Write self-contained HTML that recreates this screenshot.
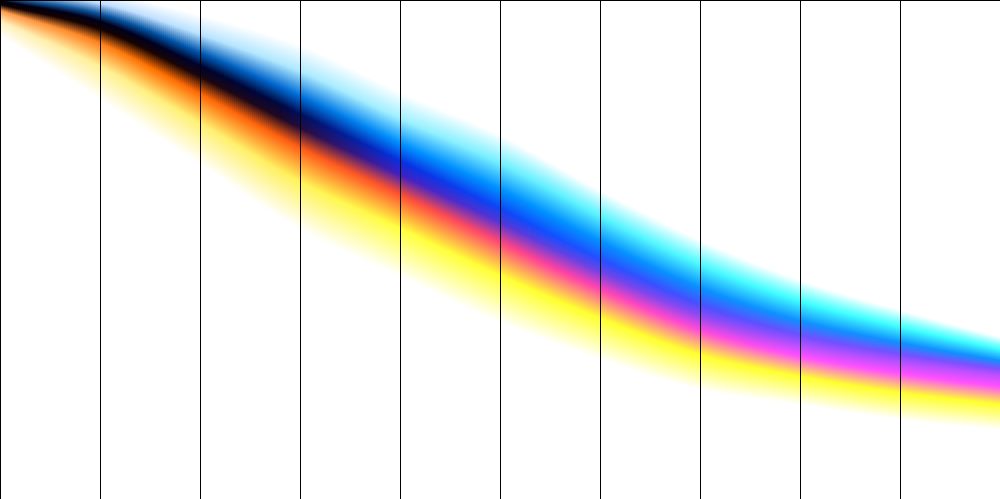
<!DOCTYPE html>
<html><head><meta charset="utf-8"><style>html,body{margin:0;padding:0;background:#fff;}svg{display:block;}</style></head>
<body>
<svg id="chart" width="1000" height="499" viewBox="0 0 1000 499" xmlns="http://www.w3.org/2000/svg">
<defs id="defs"></defs>
<g id="band"></g>
<g id="grid"></g>
</svg>
<script>
const xs = [0,100,200,300,400,500,600,700,800,900,1000];
const topEdge = [-14,-8,15,45,92,135,190,240,280,310,337];
const centerLine = [2,24,70,120,167,215,265,310,340,358,372];
const bottomEdge = [36,100,165,230,277,323,360,390,405,420,430];
const gridXs = [0,100,200,300,400,500,600,700,800,900];

const NS = 'http://www.w3.org/2000/svg';
function interp(arr, x){
  let i=Math.min(xs.length-2,Math.max(0,Math.floor(x/100)));
  const t=(x-xs[i])/(xs[i+1]-xs[i]);
  const p1=arr[i],p2=arr[i+1];
  const p0=i>0?arr[i-1]:2*p1-p2, p3=i+2<arr.length?arr[i+2]:2*p2-p1;
  const t2=t*t,t3=t2*t;
  return 0.5*((2*p1)+(-p0+p2)*t+(2*p0-5*p1+4*p2-p3)*t2+(-p0+3*p1-3*p2+p3)*t3);
}
function hex(c){return [parseInt(c.slice(1,3),16),parseInt(c.slice(3,5),16),parseInt(c.slice(5,7),16)];}
const keyX=[0,150,280,400,550,800,1000];
const pal = {
  cyan:['#c8e0ff','#c0e0ff','#b0e8ff','#a0f0ff','#60f0ff','#40ffff','#40ffff'],
  blue:['#2060a0','#0050a0','#0068d0','#0090ff','#0090ff','#1090ff','#1090ff'],
  dark:['#000010','#000020','#000840','#0830e0','#1050ff','#7050ff','#8050ff'],
  dark2:['#100000','#180400','#200820','#4020c0','#6040e0','#b050ff','#c050ff'],
  warm:['#ffa050','#ff7000','#ff6010','#ff5030','#ff40a0','#ff50ff','#ff50ff'],
  yel:['#fff0c0','#fff080','#fff060','#ffff40','#ffff30','#ffff30','#ffff30']
};
function colAt(arr,x){
  let i=0;while(i<keyX.length-2&&x>keyX[i+1])i++;
  const t=Math.min(1,Math.max(0,(x-keyX[i])/(keyX[i+1]-keyX[i])));
  const A=hex(arr[i]),B=hex(arr[i+1]);
  return 'rgb('+A.map((v,k)=>Math.round(v+(B[k]-v)*t)).join(',')+')';
}
const defs=document.getElementById('defs');
const band=document.getElementById('band');
const W=2;
for(let x=0;x<1000;x+=W){
  const cx=x+W/2;
  const te=interp(topEdge,cx), c=interp(centerLine,cx), b=interp(bottomEdge,cx);
  const f=(c-te)/(b-te);
  const g=document.createElementNS(NS,'linearGradient');
  g.setAttribute('id','g'+x);
  g.setAttribute('gradientUnits','userSpaceOnUse');
  g.setAttribute('x1',0);g.setAttribute('x2',0);g.setAttribute('y1',te);g.setAttribute('y2',b);
  const stops=[[0,'#ffffff'],[0.35*f,colAt(pal.cyan,cx)],[0.68*f,colAt(pal.blue,cx)],[0.92*f,colAt(pal.dark,cx)],
    [f+0.07*(1-f),colAt(pal.dark2,cx)],
    [f+0.25*(1-f),colAt(pal.warm,cx)],[f+0.56*(1-f),colAt(pal.yel,cx)],[1,'#ffffff']];
  stops.forEach(s=>{const st=document.createElementNS(NS,'stop');st.setAttribute('offset',s[0]);st.setAttribute('stop-color',s[1]);g.appendChild(st);});
  defs.appendChild(g);
  const r=document.createElementNS(NS,'rect');
  
  
  r.setAttribute('x',x);r.setAttribute('width',W+0.5);
  r.setAttribute('y',te);r.setAttribute('height',b-te);
  r.setAttribute('fill','url(#g'+x+')');
  band.appendChild(r);
}
const grid=document.getElementById('grid');
gridXs.forEach(gx=>{
  const l=document.createElementNS(NS,'line');
  
  
  l.setAttribute('x1',gx+0.5);l.setAttribute('x2',gx+0.5);l.setAttribute('y1',0);l.setAttribute('y2',499);
  l.setAttribute('stroke','#000');l.setAttribute('stroke-width',1);
  grid.appendChild(l);
});
const tl=document.createElementNS(NS,'line');


tl.setAttribute('x1',0);tl.setAttribute('x2',1000);tl.setAttribute('y1',0.5);tl.setAttribute('y2',0.5);
tl.setAttribute('stroke','#000');
grid.appendChild(tl);
</script>
</body></html>
